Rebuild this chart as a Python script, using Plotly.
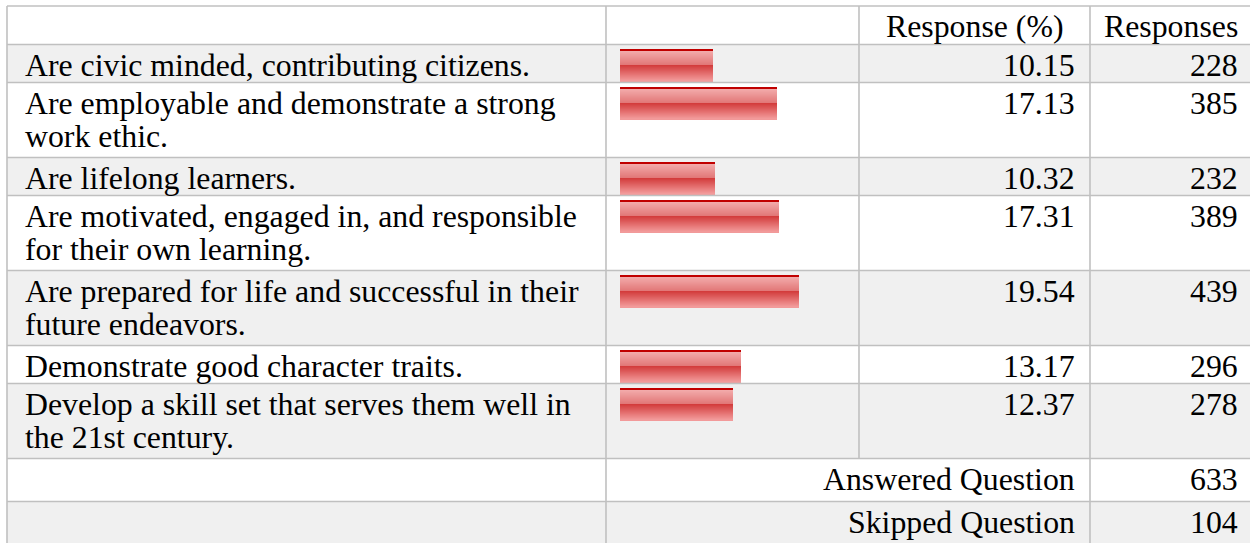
import plotly.graph_objects as go

# ---- data ----
categories = [
    "Are civic minded, contributing citizens.",
    "Are employable and demonstrate a strong\nwork ethic.",
    "Are lifelong learners.",
    "Are motivated, engaged in, and responsible\nfor their own learning.",
    "Are prepared for life and successful in their\nfuture endeavors.",
    "Demonstrate good character traits.",
    "Develop a skill set that serves them well in\nthe 21st century.",
]
response_pct = [10.15, 17.13, 10.32, 17.31, 19.54, 13.17, 12.37]
responses = [228, 385, 232, 389, 439, 296, 278]
header_labels = ["Response (%)", "Responses"]
summary_labels = ["Answered Question", "Skipped Question"]
summary_values = [633, 104]

# ---- layout constants (screen pixels) ----
W, H = 1250, 543
FONT = "Liberation Serif, Times New Roman, serif"
FS = 31.8
LINE_SP = 33.4
GRID = "#c0c0c0"
ALT = "#f0f0f0"
X0, XC1, XC2, XC3, X4 = 7, 606, 859, 1090, 1252
BAR_X0 = 620
PX_PER_PCT = 9.16
TOP = 6
HEADER_H = 38.5
SUMMARY_H = [43, 43]
TEXT_PAD = 1.2
BAR_PAD = 5.5

# row geometry
rows = []  # (top, bottom)
y = TOP + HEADER_H
for c in categories:
    n = c.count("\n") + 1
    h = 38 if n == 1 else 75
    rows.append((y, y + h))
    y += h
sum_rows = []
for h in SUMMARY_H:
    sum_rows.append((y, y + h))
    y += h

fig = go.Figure()
shapes = []
annotations = []

# row backgrounds (alternating)
all_rows = [(TOP, TOP + HEADER_H)] + rows + sum_rows
for i, (t, b) in enumerate(all_rows):
    if i % 2 == 1:
        shapes.append(dict(type="rect", xref="x", yref="y", x0=X0, x1=X4, y0=t, y1=b,
                           fillcolor=ALT, line=dict(width=0), layer="below"))

# grid lines
lw = 1.6
for (t, b) in all_rows:
    shapes.append(dict(type="line", xref="x", yref="y", x0=X0, x1=X4, y0=t, y1=t,
                       line=dict(color=GRID, width=lw)))
end_y = all_rows[-1][1]
shapes.append(dict(type="line", xref="x", yref="y", x0=X0, x1=X4, y0=end_y, y1=end_y,
                   line=dict(color=GRID, width=lw)))
for xv, yb in [(X0, end_y), (XC1, end_y), (XC2, rows[-1][1]), (XC3, end_y)]:
    shapes.append(dict(type="line", xref="x", yref="y", x0=xv, x1=xv, y0=TOP, y1=yb,
                       line=dict(color=GRID, width=lw)))

# gradient strips for bars (top to bottom, 1px each)
def lerp(c1, c2, t):
    return "#%02x%02x%02x" % tuple(round(a + (b - a) * t) for a, b in zip(c1, c2))

strip_colors = ["#c00000", "#c00000"]
for k in range(14):
    strip_colors.append(lerp((0xf2, 0xaa, 0xaa), (0xe2, 0x78, 0x78), k / 13))
for k in range(16):
    strip_colors.append(lerp((0xd3, 0x3c, 0x3c), (0xf2, 0x9a, 0x9a), k / 15))

for k, col in enumerate(strip_colors):
    ys = [t + BAR_PAD + k + 0.5 for (t, b) in rows]
    fig.add_trace(go.Bar(
        x=response_pct, y=ys, orientation="h", width=1.05,
        marker=dict(color=col, line=dict(width=0)),
        xaxis="x2", yaxis="y", showlegend=False, hoverinfo="skip",
    ))

def ann(text, x, y, xanchor):
    annotations.append(dict(text=text, x=x, y=y, xref="x", yref="y", xanchor=xanchor,
                            yanchor="top", showarrow=False,
                            font=dict(family=FONT, size=FS, color="black")))

# header
ann(header_labels[0], (XC2 + XC3) / 2, TOP + TEXT_PAD, "center")
ann(header_labels[1], (XC3 + X4) / 2, TOP + TEXT_PAD, "center")

for c, p, r, (t, b) in zip(categories, response_pct, responses, rows):
    for i, line in enumerate(c.split("\n")):
        ann(line, 23, t + TEXT_PAD + i * LINE_SP, "left")
    ann(f"{p:.2f}", 1077, t + TEXT_PAD, "right")
    ann(str(r), 1240, t + TEXT_PAD, "right")

for lab, v, (t, b) in zip(summary_labels, summary_values, sum_rows):
    ann(lab, 1077, t + TEXT_PAD, "right")
    ann(str(v), 1240, t + TEXT_PAD, "right")

fig.update_layout(
    width=W, height=H, margin=dict(l=0, r=0, t=0, b=0),
    paper_bgcolor="white", plot_bgcolor="rgba(0,0,0,0)",
    xaxis=dict(range=[0, W], domain=[0, 1], visible=False, fixedrange=True),
    xaxis2=dict(range=[0, (XC2 - BAR_X0) / PX_PER_PCT],
                domain=[BAR_X0 / W, XC2 / W],
                anchor="y", visible=False, fixedrange=True),
    yaxis=dict(range=[H, 0], domain=[0, 1], visible=False, fixedrange=True),
    barmode="overlay", bargap=0,
    shapes=shapes, annotations=annotations,
)
fig.write_html("out.html", config={"displayModeBar": False},
               post_script="document.body.style.margin='0';document.body.style.overflow='hidden';")
